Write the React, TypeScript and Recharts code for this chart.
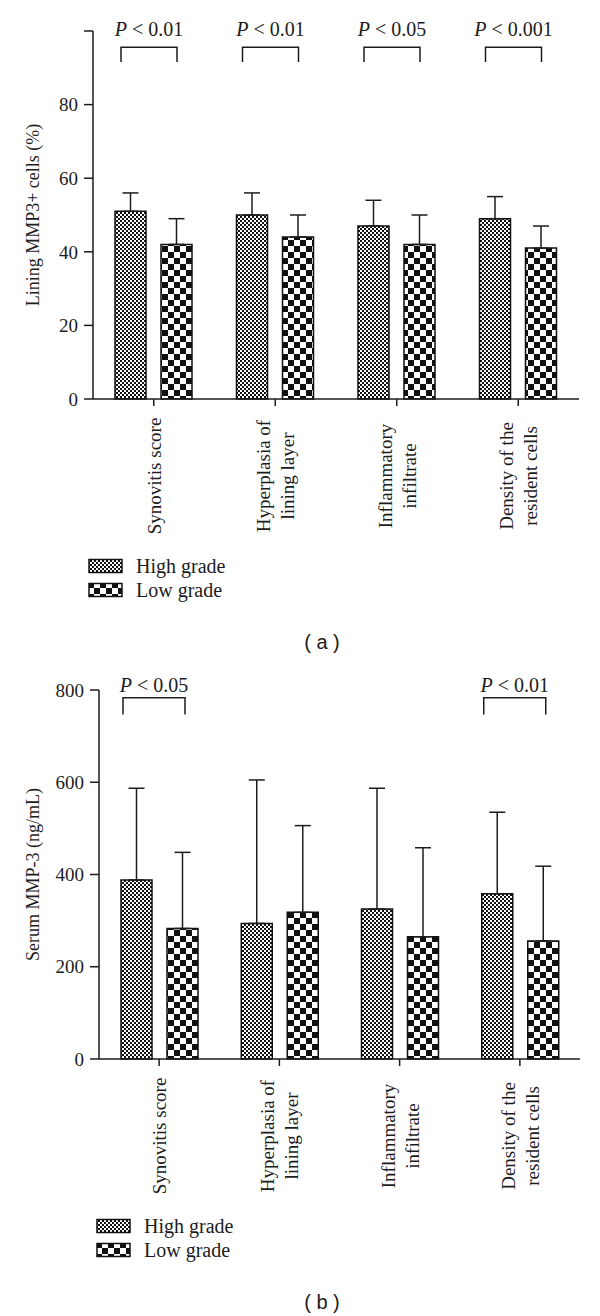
import { Bar, BarChart, ErrorBar, Label, Legend, XAxis, YAxis } from "recharts";

const categories = [
  "Synovitis score",
  "Hyperplasia of\nlining layer",
  "Inflammatory\ninfiltrate",
  "Density of the\nresident cells",
];
const seriesNames = ["High grade", "Low grade"];

// (a) lining MMP3+ cells (%)
const liningHigh = [51, 50, 47, 49];
const liningHighErr = [5, 6, 7, 6];
const liningLow = [42, 44, 42, 41];
const liningLowErr = [7, 6, 8, 6];
const liningPValues = ["0.01", "0.01", "0.05", "0.001"];
const liningBracket = [91.6, 95.6];
const liningTicks = [0, 20, 40, 60, 80, 100];

// (b) serum MMP-3 (ng/mL)
const serumHigh = [388, 294, 325, 358];
const serumHighErr = [199, 311, 262, 177];
const serumLow = [283, 318, 265, 256];
const serumLowErr = [165, 188, 193, 162];
const serumPValues = ["0.05", null, null, "0.01"];
const serumBracket = [747, 783];
const serumTicks = [0, 200, 400, 600, 800];

const SERIF = "'Liberation Serif', 'Times New Roman', serif";
const INK = "#1c1c1c";

function buildRows(
  high: number[],
  highErr: number[],
  low: number[],
  lowErr: number[],
  pValues: (string | null)[],
  bracket: number[],
) {
  return categories.map((name, i) => ({
    name,
    high: high[i],
    highErr: [0, highErr[i]],
    low: low[i],
    lowErr: [0, lowErr[i]],
    bracket: pValues[i] ? bracket : null,
    p: pValues[i],
  }));
}

function CategoryTick(props: any) {
  const { x, y, payload } = props;
  const lines = String(payload.value).split("\n");
  return (
    <g transform={`translate(${x},${y + 70}) rotate(-90)`}>
      <text textAnchor="middle" fontFamily={SERIF} fontSize={19} fill={INK}>
        {lines.map((line, i) => (
          <tspan key={i} x={0} y={(i - (lines.length - 1) / 2) * 24 + 7}>
            {line}
          </tspan>
        ))}
      </text>
    </g>
  );
}

function makeBracket(shift: number, lift: number) {
  return (props: any) => {
    const { x, y, width, height, payload } = props;
    if (!payload || !payload.p || height == null) return <g />;
    const left = x + shift;
    const right = x + width + shift;
    return (
      <g>
        <path
          d={`M${left},${y + height} L${left},${y} L${right},${y} L${right},${y + height}`}
          fill="none"
          stroke={INK}
          strokeWidth={1.5}
        />
        <text x={(left + right) / 2} y={y - lift} textAnchor="middle" fontFamily={SERIF} fontSize={20} fill={INK}>
          <tspan fontStyle="italic">P</tspan>
          {" < " + payload.p}
        </text>
      </g>
    );
  };
}

function Patterns({ id }: { id: string }) {
  return (
    <defs>
      <pattern id={`${id}-fine`} width={4} height={4} patternUnits="userSpaceOnUse">
        <rect width={4} height={4} fill="#fff" />
        <rect width={2} height={2} fill="#111" />
        <rect x={2} y={2} width={2} height={2} fill="#111" />
      </pattern>
      <pattern id={`${id}-coarse`} width={12} height={12} patternUnits="userSpaceOnUse">
        <rect width={12} height={12} fill="#fff" />
        <rect width={6} height={6} fill="#111" />
        <rect x={6} y={6} width={6} height={6} fill="#111" />
      </pattern>
    </defs>
  );
}

type PanelProps = {
  id: string;
  data: ReturnType<typeof buildRows>;
  ticks: number[];
  yLabel: string;
  height: number;
  margin: { top: number; right: number; bottom: number; left: number };
  yAxisWidth: number;
  bracketWidth: number;
  bracketShift: number;
  labelLift: number;
  legendLeft: number;
  legendTop: number;
};

function Panel({
  id,
  data,
  ticks,
  yLabel,
  height,
  margin,
  yAxisWidth,
  bracketWidth,
  bracketShift,
  labelLift,
  legendLeft,
  legendTop,
}: PanelProps) {
  const fills = [`url(#${id}-fine)`, `url(#${id}-coarse)`];
  const top = ticks[ticks.length - 1];
  return (
    <BarChart width={600} height={height} data={data} margin={margin} barGap={15}>
      <Patterns id={id} />
      <XAxis
        dataKey="name"
        stroke={INK}
        strokeWidth={1.5}
        tickSize={7}
        tickMargin={0}
        height={60}
        interval={0}
        tick={<CategoryTick />}
      />
      <XAxis xAxisId="br" dataKey="name" hide />
      <YAxis
        type="number"
        domain={[0, top]}
        ticks={ticks}
        width={yAxisWidth}
        stroke={INK}
        strokeWidth={1.5}
        tickSize={9}
        tickMargin={6}
        tickFormatter={(v: number) => (v === 100 ? "" : String(v))}
        tick={{ fill: INK, fontSize: 19, fontFamily: SERIF }}
      >
        <Label
          content={(p: any) => {
            const vb = p.viewBox || {};
            const cx = 33;
            const cy = (vb.y ?? 0) + (vb.height ?? 0) / 2;
            return (
              <text
                transform={`translate(${cx},${cy}) rotate(-90)`}
                textAnchor="middle"
                dominantBaseline="central"
                fontFamily={SERIF}
                fontSize={18}
                fill={INK}
              >
                {yLabel}
              </text>
            );
          }}
        />
      </YAxis>
      <Legend
        layout="vertical"
        align="center"
        verticalAlign="middle"
        wrapperStyle={{ left: legendLeft, top: legendTop, width: 220 }}
        content={() => (
          <div style={{ fontFamily: SERIF, fontSize: 20, color: INK }}>
            {seriesNames.map((name, i) => (
              <div key={name} style={{ display: "flex", alignItems: "center", height: 24 }}>
                <svg width={36} height={16} style={{ marginRight: 12 }}>
                  <rect x={1} y={1.5} width={33} height={13} fill={fills[i]} stroke="#111" strokeWidth={1.5} />
                </svg>
                <span>{name}</span>
              </div>
            ))}
          </div>
        )}
      />
      <Bar dataKey="high" name={seriesNames[0]} fill={fills[0]} stroke="#111" strokeWidth={1.5} barSize={31} isAnimationActive={false}>
        <ErrorBar dataKey="highErr" width={8} stroke={INK} strokeWidth={1.5} direction="y" isAnimationActive={false} />
      </Bar>
      <Bar dataKey="low" name={seriesNames[1]} fill={fills[1]} stroke="#111" strokeWidth={1.5} barSize={31} isAnimationActive={false}>
        <ErrorBar dataKey="lowErr" width={8} stroke={INK} strokeWidth={1.5} direction="y" isAnimationActive={false} />
      </Bar>
      <Bar
        xAxisId="br"
        dataKey="bracket"
        legendType="none"
        barSize={bracketWidth}
        isAnimationActive={false}
        shape={makeBracket(bracketShift, labelLift)}
      />
    </BarChart>
  );
}

const liningRows = buildRows(liningHigh, liningHighErr, liningLow, liningLowErr, liningPValues, liningBracket);
const serumRows = buildRows(serumHigh, serumHighErr, serumLow, serumLowErr, serumPValues, serumBracket);

const captionStyle: React.CSSProperties = {
  position: "absolute",
  left: 322,
  transform: "translate(-50%, -50%)",
  fontFamily: "'Liberation Sans', Arial, sans-serif",
  fontSize: 20,
  color: INK,
  whiteSpace: "pre",
};

export default function App() {
  return (
    <div style={{ position: "absolute", left: 0, top: 0, width: 600, height: 1316, background: "#fff" }}>
      <div style={{ position: "absolute", left: 0, top: 0 }}>
        <Panel
          id="a"
          data={liningRows}
          ticks={liningTicks}
          yLabel="Lining MMP3+ cells (%)"
          height={660}
          margin={{ top: 31, right: 21, bottom: 201, left: 0 }}
          yAxisWidth={93}
          bracketWidth={56}
          bracketShift={-5}
          labelLift={11}
          legendLeft={88}
          legendTop={554}
        />
      </div>
      <div style={{ ...captionStyle, top: 642 }}>( a )</div>
      <div style={{ position: "absolute", left: 0, top: 660 }}>
        <Panel
          id="b"
          data={serumRows}
          ticks={serumTicks}
          yLabel="Serum MMP-3 (ng/mL)"
          height={656}
          margin={{ top: 30, right: 20, bottom: 197, left: 0 }}
          yAxisWidth={99}
          bracketWidth={62}
          bracketShift={-5}
          labelLift={6}
          legendLeft={96}
          legendTop={554}
        />
      </div>
      <div style={{ ...captionStyle, top: 1302 }}>( b )</div>
    </div>
  );
}
